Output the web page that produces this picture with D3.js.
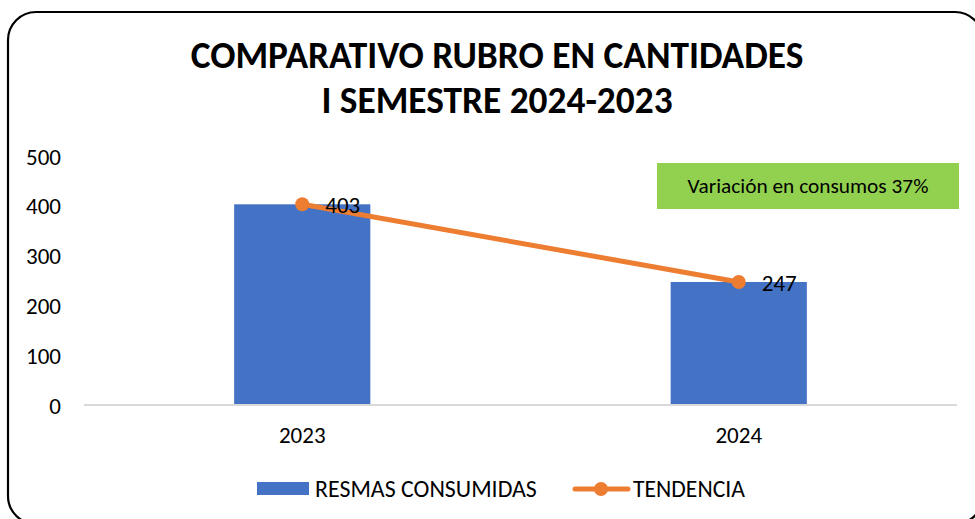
<!DOCTYPE html>
<html>
<head>
<meta charset="utf-8">
<script src="https://cdn.jsdelivr.net/npm/d3@7"></script>
<style>
  html, body { margin: 0; padding: 0; background: #fff; }
  svg { display: block; font-family: Carlito, Calibri, Lato, "Open Sans", sans-serif; }
  svg text { font-family: Carlito, Calibri, Lato, "Open Sans", sans-serif; }
</style>
</head>
<body>
<svg id="chart" width="975" height="519"></svg>
<script>
const categories = ["2023", "2024"];
const resmas = [403, 247];
const tendencia = [403, 247];
const yTicks = [0, 100, 200, 300, 400, 500];
const titleLines = ["COMPARATIVO RUBRO EN CANTIDADES", "I SEMESTRE 2024-2023"];
const seriesNames = ["RESMAS CONSUMIDAS", "TENDENCIA"];
const note = "Variación en consumos 37%";

const svg = d3.select("#chart");

svg.append("rect").attr("x", 8).attr("y", 12).attr("width", 975).attr("height", 512)
  .attr("rx", 28).attr("ry", 28).attr("fill", "#fff").attr("stroke", "#000").attr("stroke-width", 2.2);

function fit(sel, target) {
  const w = sel.node().getComputedTextLength();
  const fs = parseFloat(sel.attr("font-size"));
  sel.attr("font-size", fs * target / w);
}

// numeric font size: make "500" about 35px wide
const probe = svg.append("text").attr("font-size", 20).text("500");
fit(probe, 35);
const numFS = parseFloat(probe.attr("font-size"));
probe.remove();

const t1 = svg.append("text").attr("x", 497).attr("y", 68).attr("text-anchor", "middle")
  .attr("font-size", 31).attr("font-weight", "bold").text(titleLines[0]);
fit(t1, 613);
svg.append("text").attr("x", 497).attr("y", 113).attr("text-anchor", "middle")
  .attr("font-size", t1.attr("font-size")).attr("font-weight", "bold").text(titleLines[1]);

const x = d3.scaleBand().domain(categories).range([84, 957]).paddingInner(0.688).paddingOuter(0.344);
const y = d3.scaleLinear().domain([0, 500]).range([405, 156]);

// y axis labels
const yAxis = svg.append("g").attr("transform", "translate(61,0)")
  .call(d3.axisLeft(y).tickValues(yTicks).tickSize(0).tickPadding(0));
yAxis.attr("font-family", null).attr("font-size", null);
yAxis.select(".domain").remove();
yAxis.selectAll("text").attr("font-size", numFS).attr("fill", "#000").attr("dy", "0.35em");

// bars
svg.append("g").selectAll("rect").data(resmas).join("rect")
  .attr("x", (d, i) => x(categories[i]))
  .attr("width", x.bandwidth())
  .attr("y", d => y(d))
  .attr("height", d => y(0) - y(d))
  .attr("fill", "#4472C4");

// x axis
const xAxis = svg.append("g").attr("transform", `translate(0,${y(0)})`)
  .call(d3.axisBottom(x).tickSize(0).tickPadding(22));
xAxis.attr("font-family", null).attr("font-size", null);
xAxis.select(".domain").attr("stroke", "#d9d9d9").attr("stroke-width", 2)
  .attr("d", `M84,0H957`);
xAxis.selectAll("text").attr("font-size", numFS).attr("fill", "#000");

// line
const cx = (d, i) => x(categories[i]) + x.bandwidth() / 2;
const line = d3.line().x(cx).y(d => y(d));
svg.append("path").datum(tendencia).attr("d", line)
  .attr("fill", "none").attr("stroke", "#ED7D31").attr("stroke-width", 5).attr("stroke-linecap", "round");
svg.append("g").selectAll("circle").data(tendencia).join("circle")
  .attr("cx", cx).attr("cy", d => y(d)).attr("r", 7).attr("fill", "#ED7D31");

// data labels
svg.append("g").selectAll("text").data(tendencia).join("text")
  .attr("x", (d, i) => cx(d, i) + 23).attr("y", d => y(d) + 1)
  .attr("dy", "0.35em").attr("font-size", numFS).attr("fill", "#000").text(d => d);

// note box
svg.append("rect").attr("x", 657).attr("y", 163).attr("width", 302).attr("height", 46).attr("fill", "#92D050");
const nt = svg.append("text").attr("x", 808).attr("y", 186).attr("dy", "0.35em").attr("text-anchor", "middle")
  .attr("font-size", 16).attr("fill", "#000").text(note);
fit(nt, 241);

// legend
const lg = svg.append("g");
lg.append("rect").attr("x", 257).attr("y", 482).attr("width", 52).attr("height", 13).attr("fill", "#4472C4");
const l1 = lg.append("text").attr("x", 315).attr("y", 489).attr("dy", "0.35em").attr("font-size", 18).text(seriesNames[0]);
fit(l1, 222);
lg.append("line").attr("x1", 575).attr("x2", 628).attr("y1", 489).attr("y2", 489)
  .attr("stroke", "#ED7D31").attr("stroke-width", 5).attr("stroke-linecap", "round");
lg.append("circle").attr("cx", 601).attr("cy", 489).attr("r", 7).attr("fill", "#ED7D31");
const l2 = lg.append("text").attr("x", 633).attr("y", 489).attr("dy", "0.35em").attr("font-size", 18).text(seriesNames[1]);
fit(l2, 112);
</script>
</body>
</html>
